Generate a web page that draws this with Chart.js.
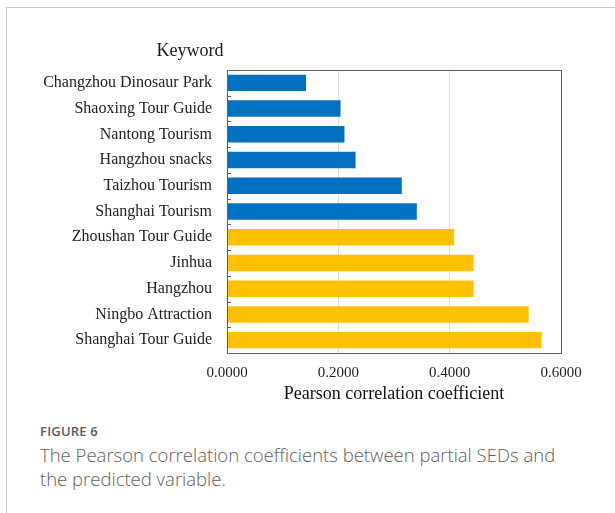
<!DOCTYPE html>
<html>
<head>
<meta charset="utf-8">
<script src="https://cdn.jsdelivr.net/npm/chart.js@4"></script>
<style>
  html, body { margin: 0; padding: 0; background: #fff; }
  body { width: 615px; height: 513px; position: relative; overflow: hidden; }
  .card { position: absolute; left: 6px; top: 7px; width: 640px; height: 600px;
          border-left: 1px solid #c9c9c9; border-top: 1px solid #c9c9c9; }
  .chart-box { position: absolute; left: 0; top: 0; width: 615px; height: 410px; }
  .caption { position: absolute; left: 40px; top: 422px; width: 540px;
             font-family: 'Open Sans', sans-serif; color: #6a6a6a; }
  .caption .fig { font-size: 13px; font-weight: 600; color: #5c5c5c; letter-spacing: 0.2px; }
  .caption .txt { font-size: 18.5px; font-weight: 300; line-height: 24px; margin-top: 3px; color: #606060; }
</style>
</head>
<body>
<div class="card"></div>
<div class="chart-box"><canvas id="grafica"></canvas></div>
<div class="caption">
  <div class="fig">FIGURE 6</div>
  <div class="txt">The Pearson correlation coefficients between partial SEDs and the predicted variable.</div>
</div>
<script>
// --- Datos de la gráfica ---
const keywords = [
    'Changzhou Dinosaur Park', 'Shaoxing Tour Guide', 'Nantong Tourism', 'Hangzhou snacks',
    'Taizhou Tourism', 'Shanghai Tourism', 'Zhoushan Tour Guide', 'Jinhua',
    'Hangzhou', 'Ningbo Attraction', 'Shanghai Tour Guide'
];
const pearson = [0.142, 0.204, 0.211, 0.231, 0.314, 0.341, 0.408, 0.443, 0.443, 0.542, 0.565];
const grupos = ['a', 'a', 'a', 'a', 'a', 'a', 'b', 'b', 'b', 'b', 'b'];
const xTicks = [0, 0.2, 0.4, 0.6];

const coloresGrupo = { a: '#0070C0', b: '#FFC000' };
const serif = "'Liberation Serif', 'Times New Roman', serif";

// Plugin: marco del área, marcas internas y el título "Keyword"
const marcoPlugin = {
    id: 'marco',
    afterDatasetsDraw(chart) {
        const { ctx, chartArea: a, scales } = chart;
        ctx.save();
        ctx.strokeStyle = '#5f5f5f';
        ctx.lineWidth = 1;
        ctx.strokeRect(Math.round(a.left) + 0.5, Math.round(a.top) + 0.5,
                       Math.round(a.right - a.left), Math.round(a.bottom - a.top));
        // pequeñas marcas entre categorías
        const y = scales.y;
        for (let i = 1; i < keywords.length; i++) {
            const py = Math.round((y.getPixelForValue(i - 1) + y.getPixelForValue(i)) / 2) + 0.5;
            ctx.beginPath();
            ctx.moveTo(a.left, py);
            ctx.lineTo(a.left + 4, py);
            ctx.stroke();
        }
        ctx.fillStyle = '#1a1a1a';
        ctx.font = '18px ' + serif;
        ctx.textAlign = 'center';
        ctx.textBaseline = 'middle';
        ctx.fillText('Keyword', 190, 51);
        ctx.restore();
    }
};

const ctx = document.getElementById('grafica');
new Chart(ctx.getContext('2d'), {
    type: 'bar',
    data: {
        labels: keywords,
        datasets: [{
            data: pearson,
            backgroundColor: grupos.map(g => coloresGrupo[g]),
            borderWidth: 0,
            barPercentage: 0.8,
            categoryPercentage: 0.8
        }]
    },
    options: {
        indexAxis: 'y',
        responsive: true,
        maintainAspectRatio: false,
        animation: false,
        layout: { padding: { top: 70, right: 54, bottom: 5, left: 0 } },
        plugins: { legend: { display: false }, tooltip: { enabled: false } },
        scales: {
            x: {
                min: 0, max: 0.6,
                afterBuildTicks: axis => { axis.ticks = xTicks.map(v => ({ value: v })); },
                grid: {
                    drawTicks: false,
                    color: ctx => (ctx.tick && ctx.tick.value > 0 && ctx.tick.value < 0.6) ? '#dcdcdc' : 'rgba(0,0,0,0)'
                },
                border: { display: false },
                ticks: {
                    color: '#222', padding: 11,
                    font: { family: serif, size: 15 },
                    callback: v => Number(v).toFixed(4)
                },
                title: {
                    display: true, text: 'Pearson correlation coefficient',
                    color: '#111', font: { family: serif, size: 18 }, padding: { top: 0, bottom: 0 }
                },
                afterFit: axis => { axis.height = 52; }
            },
            y: {
                grid: { display: false, drawTicks: false },
                border: { display: false },
                ticks: { color: '#222', padding: 15, font: { family: serif, size: 16 } },
                afterFit: axis => { axis.width = 227; }
            }
        }
    },
    plugins: [marcoPlugin]
});
</script>
</body>
</html>
